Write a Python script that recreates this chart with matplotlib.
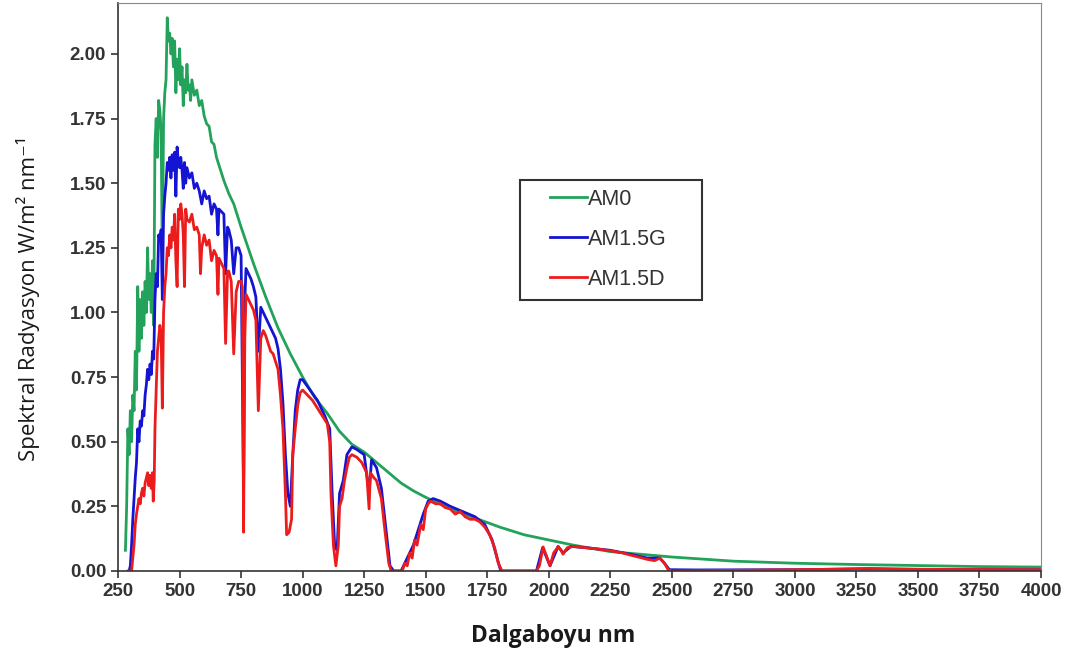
import matplotlib
matplotlib.use("Agg")
import matplotlib.pyplot as plt
from matplotlib.patches import Rectangle

# wavelength (nm) and spectral irradiance (W/m2/nm)
am0_nm = [280, 285, 290, 295, 300, 305, 310, 315, 320, 325, 330, 335, 340, 345, 350,
          355, 360, 365, 370, 375, 380, 385, 390, 395, 400, 405, 410, 415, 420, 425,
          430, 435, 440, 445, 450, 455, 460, 465, 470, 475, 480, 485, 490, 495, 500,
          505, 510, 515, 520, 525, 530, 535, 540, 545, 550, 560, 570, 580, 590, 600,
          610, 620, 630, 640, 650, 660, 680, 700, 720, 750, 800, 850, 900, 950, 1000,
          1050, 1100, 1150, 1200, 1250, 1300, 1350, 1400, 1450, 1500, 1600, 1700, 1800,
          1900, 2000, 2100, 2250, 2500, 2750, 3000, 3250, 3500, 3750, 4000]
am0_val = [0.08, 0.25, 0.55, 0.45, 0.62, 0.50, 0.68, 0.62, 0.85, 0.70, 1.10, 0.85, 1.05, 0.90, 1.08,
           0.95, 1.12, 1.00, 1.25, 1.05, 1.15, 1.00, 1.20, 0.95, 1.65, 1.75, 1.60, 1.82, 1.78, 1.70,
           1.20, 1.75, 1.85, 1.90, 2.14, 2.05, 2.08, 2.00, 2.06, 1.95, 2.05, 1.85, 1.98, 1.90, 2.02,
           1.88, 1.95, 1.80, 1.90, 1.85, 1.96, 1.86, 1.88, 1.82, 1.90, 1.84, 1.86, 1.80, 1.82, 1.76,
           1.73, 1.72, 1.66, 1.65, 1.60, 1.57, 1.51, 1.46, 1.42, 1.33, 1.19, 1.06, 0.94, 0.84, 0.75,
           0.67, 0.61, 0.54, 0.49, 0.46, 0.42, 0.38, 0.34, 0.31, 0.285, 0.24, 0.205, 0.17,
           0.14, 0.12, 0.10, 0.075, 0.054, 0.038, 0.030, 0.025, 0.021, 0.017, 0.015]

am15g_nm = [295, 300, 305, 310, 315, 320, 325, 330, 335, 340, 345, 350, 355, 360, 365,
            370, 375, 380, 385, 390, 395, 400, 405, 410, 415, 420, 425, 430, 435, 440,
            445, 450, 455, 460, 465, 470, 475, 480, 485, 490, 495, 500, 505, 510, 515,
            520, 525, 530, 540, 550, 560, 570, 580, 590, 600, 610, 620, 630, 640, 650,
            656, 660, 670, 680, 687, 695, 700, 710, 720, 730, 740, 750, 760, 765, 770,
            790, 800, 810, 820, 830, 850, 870, 890, 900, 910, 920, 930, 940, 950, 960,
            970, 980, 990, 1000, 1030, 1060, 1090, 1110, 1120, 1130, 1140, 1150, 1165, 1180,
            1200, 1220, 1250, 1270, 1280, 1300, 1320, 1340, 1355, 1370, 1400, 1410, 1430,
            1450, 1470, 1490, 1510, 1530, 1560, 1600, 1650, 1700, 1740, 1770, 1790, 1805,
            1950, 1975, 2005, 2038, 2058, 2090, 2150, 2250, 2330, 2400, 2450, 2470, 2490,
            2600, 3000, 3300, 3500, 4000]
am15g_val = [0.00, 0.02, 0.10, 0.20, 0.28, 0.36, 0.42, 0.55, 0.50, 0.58, 0.56, 0.62, 0.60, 0.68, 0.72,
             0.78, 0.74, 0.80, 0.76, 0.85, 0.82, 1.05, 1.15, 1.10, 1.30, 1.28, 1.32, 1.05, 1.38, 1.45,
             1.50, 1.58, 1.55, 1.60, 1.52, 1.61, 1.55, 1.62, 1.45, 1.64, 1.58, 1.56, 1.60, 1.55, 1.48,
             1.58, 1.50, 1.56, 1.52, 1.54, 1.48, 1.50, 1.47, 1.42, 1.47, 1.44, 1.45, 1.38, 1.42, 1.40,
             1.30, 1.40, 1.39, 1.38, 1.15, 1.33, 1.32, 1.28, 1.15, 1.25, 1.25, 1.22, 0.30, 1.05, 1.17,
             1.13, 1.10, 1.06, 0.85, 1.02, 0.98, 0.94, 0.90, 0.86, 0.78, 0.65, 0.45, 0.30, 0.25, 0.45,
             0.62, 0.70, 0.74, 0.74, 0.70, 0.66, 0.60, 0.55, 0.30, 0.10, 0.08, 0.30, 0.35, 0.45,
             0.48, 0.47, 0.45, 0.30, 0.43, 0.40, 0.32, 0.15, 0.02, 0.00, 0.00, 0.02, 0.06,
             0.10, 0.16, 0.22, 0.27, 0.28, 0.27, 0.25, 0.23, 0.21, 0.18, 0.12, 0.05, 0.00,
             0.00, 0.09, 0.02, 0.095, 0.07, 0.095, 0.09, 0.08, 0.065, 0.05, 0.05, 0.03, 0.005,
             0.004, 0.005, 0.008, 0.006, 0.005]

am15d_nm = [290, 305, 310, 315, 320, 325, 330, 335, 340, 345, 350, 355, 360, 365, 370,
            375, 380, 385, 390, 393, 397, 400, 405, 410, 415, 420, 425, 430, 435, 440,
            445, 450, 455, 460, 465, 470, 475, 480, 485, 490, 495, 500, 505, 510, 515,
            520, 525, 530, 540, 550, 560, 570, 580, 585, 590, 600, 610, 620, 630, 640,
            650, 656, 660, 670, 680, 687, 695, 700, 710, 720, 730, 740, 750, 755, 760,
            765, 770, 780, 790, 800, 810, 820, 830, 840, 850, 860, 870, 880, 890, 900,
            910, 920, 930, 935, 945, 955, 960, 970, 980, 990, 1000, 1020, 1040, 1060, 1080,
            1100, 1110, 1115, 1125, 1135, 1145, 1150, 1160, 1170, 1180, 1190, 1200, 1220, 1240,
            1260, 1270, 1275, 1290, 1300, 1320, 1335, 1350, 1360, 1405, 1415, 1425, 1435, 1445,
            1455, 1465, 1480, 1490, 1500, 1510, 1520, 1540, 1560, 1580, 1600, 1620, 1640, 1660,
            1680, 1700, 1720, 1740, 1760, 1780, 1795, 1810, 1950, 1962, 1977, 1990, 2005, 2020,
            2038, 2050, 2058, 2075, 2100, 2150, 2200, 2250, 2300, 2330, 2360, 2400, 2430, 2452,
            2470, 2485, 2500, 2800, 3100, 3300, 3400, 3600, 4000]
am15d_val = [0.00, 0.00, 0.05, 0.10, 0.18, 0.22, 0.25, 0.28, 0.26, 0.30, 0.32, 0.29, 0.34, 0.36, 0.38,
             0.33, 0.37, 0.32, 0.38, 0.27, 0.35, 0.55, 0.70, 0.85, 0.90, 0.95, 0.92, 0.63, 1.00, 1.10,
             1.15, 1.25, 1.22, 1.30, 1.25, 1.33, 1.28, 1.38, 1.20, 1.10, 1.40, 1.36, 1.42, 1.38, 1.30,
             1.10, 1.40, 1.36, 1.35, 1.38, 1.32, 1.33, 1.30, 1.15, 1.25, 1.30, 1.26, 1.28, 1.20, 1.24,
             1.22, 1.07, 1.21, 1.19, 1.17, 0.88, 1.16, 1.16, 1.12, 0.84, 1.08, 1.12, 1.12, 1.10, 0.15,
             0.90, 1.07, 1.05, 1.03, 1.01, 0.97, 0.62, 0.90, 0.93, 0.91, 0.88, 0.85, 0.84, 0.81, 0.78,
             0.68, 0.55, 0.30, 0.14, 0.15, 0.20, 0.45, 0.55, 0.64, 0.69, 0.70, 0.68, 0.66, 0.63, 0.60,
             0.57, 0.50, 0.30, 0.10, 0.02, 0.10, 0.25, 0.28, 0.35, 0.40, 0.44, 0.45, 0.44, 0.42,
             0.38, 0.24, 0.38, 0.36, 0.35, 0.28, 0.15, 0.03, 0.00, 0.00, 0.03, 0.02, 0.07, 0.05,
             0.12, 0.10, 0.18, 0.16, 0.24, 0.26, 0.27, 0.26, 0.26, 0.245, 0.24, 0.22, 0.23, 0.21,
             0.20, 0.20, 0.19, 0.17, 0.14, 0.09, 0.03, 0.00, 0.00, 0.02, 0.093, 0.06, 0.02, 0.07,
             0.094, 0.08, 0.065, 0.09, 0.095, 0.09, 0.085, 0.078, 0.07, 0.062, 0.055, 0.045, 0.04, 0.05,
             0.03, 0.005, 0.0, 0.003, 0.006, 0.01, 0.008, 0.006, 0.005]

x_ticks = [250, 500, 750, 1000, 1250, 1500, 1750, 2000, 2250, 2500, 2750, 3000, 3250, 3500, 3750, 4000]
y_ticks = [0.00, 0.25, 0.50, 0.75, 1.00, 1.25, 1.50, 1.75, 2.00]

plt.rcParams['font.family'] = ['Liberation Sans', 'DejaVu Sans']

fig = plt.figure(figsize=(10.76, 6.53), dpi=100)
ax = fig.add_axes([0.1097, 0.1256, 0.8578, 0.8698])

ax.plot(am0_nm, am0_val, color='#22a25a', lw=2, label='AM0')
ax.plot(am15g_nm, am15g_val, color='#1414d2', lw=2, label='AM1.5G')
ax.plot(am15d_nm, am15d_val, color='#ec1c1c', lw=2, label='AM1.5D')

ax.set_xlim(250, 4000)
ax.set_ylim(0, 2.197)
ax.set_xticks(x_ticks)
ax.set_yticks(y_ticks)
ax.set_yticklabels([f'{v:.2f}' for v in y_ticks])

for lab in ax.get_xticklabels() + ax.get_yticklabels():
    lab.set_fontweight('bold')
ax.tick_params(axis='both', direction='out', length=5, width=1.2, labelsize=13.5,
               colors='#333333')
ax.tick_params(axis='x', pad=4)

for side in ['top', 'right']:
    ax.spines[side].set_color('#8a8a8a')
for side in ['left', 'bottom']:
    ax.spines[side].set_color('#333333')
    ax.spines[side].set_linewidth(1.2)

ax.set_xlabel('Dalgaboyu nm', fontsize=16.5, fontweight='bold', family=['Open Sans', 'DejaVu Sans'],
              color='#1a1a1a')
ax.xaxis.set_label_coords(0.471, -0.093)
ax.set_ylabel('Spektral Radyasyon W/m² nm⁻¹', fontsize=16, family=['Open Sans', 'DejaVu Sans'],
              color='#1a1a1a')
ax.yaxis.set_label_coords(-0.0845, 0.48)

# legend box drawn separately: the reference has wide side margins
ax.add_patch(Rectangle((0.4355, 0.4771), 0.1972, 0.2113, transform=ax.transAxes,
                       facecolor='white', edgecolor='#333333', lw=1.5, zorder=4))
leg = ax.legend(loc='upper left', bbox_to_anchor=(0.468, 0.6727), fontsize=15.5, frameon=False,
                handlelength=1.7, handletextpad=0.05, borderpad=0, labelspacing=0.88,
                borderaxespad=0)
leg.set_zorder(5)
for t in leg.get_texts():
    t.set_color('#333333')

fig.savefig('out.png', dpi=100)
